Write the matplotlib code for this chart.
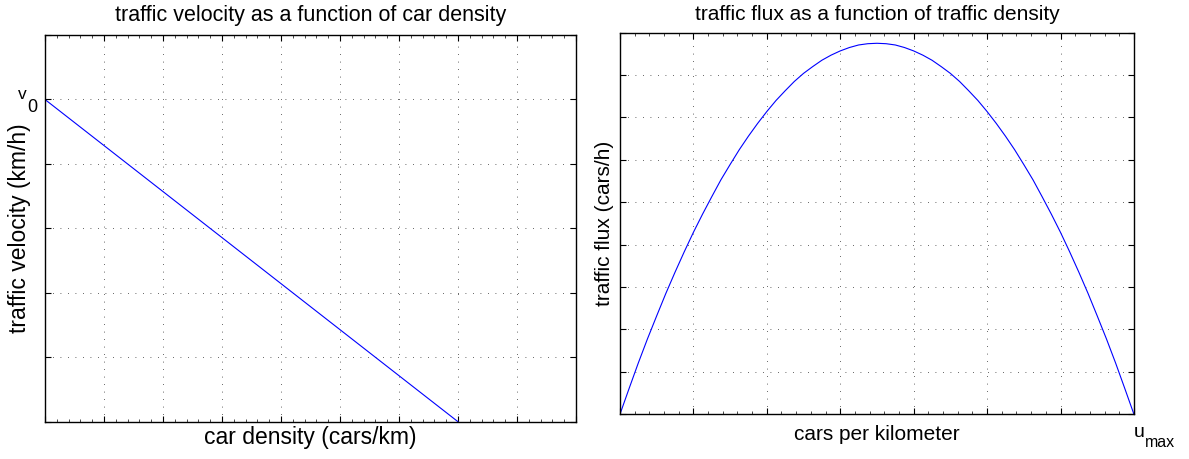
import numpy as np
import matplotlib
matplotlib.use('Agg')
import matplotlib.pyplot as plt
import matplotlib.transforms as mtransforms
from matplotlib.ticker import AutoMinorLocator

plt.rcParams['font.family'] = ['Liberation Sans', 'DejaVu Sans']

# velocity vs density (straight line from v0 down to u_max)
density_v = [0.0, 7.0]
velocity = [5.0, 0.0]

# flux vs density
density_q = [0.0, 0.125, 0.25, 0.375, 0.5, 0.625, 0.75, 0.875, 1.0, 1.125, 1.25, 1.375,
             1.5, 1.625, 1.75, 1.875, 2.0, 2.125, 2.25, 2.375, 2.5, 2.625, 2.75, 2.875,
             3.0, 3.125, 3.25, 3.375, 3.5, 3.625, 3.75, 3.875, 4.0, 4.125, 4.25, 4.375,
             4.5, 4.625, 4.75, 4.875, 5.0, 5.125, 5.25, 5.375, 5.5, 5.625, 5.75, 5.875,
             6.0, 6.125, 6.25, 6.375, 6.5, 6.625, 6.75, 6.875, 7.0]
flux = [0.0, 0.61, 1.21, 1.78, 2.32, 2.85, 3.35, 3.83, 4.29, 4.72, 5.13, 5.53,
        5.89, 6.24, 6.56, 6.86, 7.14, 7.40, 7.63, 7.85, 8.04, 8.20, 8.35, 8.47,
        8.57, 8.65, 8.71, 8.74, 8.75, 8.74, 8.71, 8.65, 8.57, 8.47, 8.35, 8.20,
        8.04, 7.85, 7.63, 7.40, 7.14, 6.86, 6.56, 6.24, 5.89, 5.53, 5.13, 4.72,
        4.29, 3.83, 3.35, 2.85, 2.32, 1.78, 1.21, 0.61, 0.0]

left_xticks = list(range(10))
left_yticks = list(range(7))
right_xticks = list(range(8))
right_yticks = list(range(10))

v0_level = 5
umax_pos = 7


def style_axes(ax):
    ax.grid(True, color='k', linestyle=(0, (1, 8)), linewidth=0.6, alpha=0.8)
    ax.tick_params(which='both', direction='in', top=True, right=True, colors='k',
                   labelbottom=False, labelleft=False)
    ax.tick_params(which='major', length=4, width=0.8)
    ax.tick_params(axis='x', which='minor', length=2, width=0.5)
    ax.tick_params(axis='y', which='minor', left=False, right=False)
    ax.xaxis.set_minor_locator(AutoMinorLocator(5))
    for s in ax.spines.values():
        s.set_linewidth(1.0)
        s.set_color('k')


fig = plt.figure(figsize=(11.89, 4.59), dpi=100)

# left panel: velocity
ax1 = fig.add_axes([0.0378, 0.0813, 0.4466, 0.8424])
ax1.plot(density_v, velocity, color='#0000ff', linewidth=0.8)
ax1.set_xlim(0, 9)
ax1.set_ylim(0, 6)
ax1.set_xticks(left_xticks)
ax1.set_yticks(left_yticks)
style_axes(ax1)
ax1.set_title('traffic velocity as a function of car density', fontsize=15.5, pad=10)
ax1.set_xlabel('car density (cars/km)', fontsize=16.5)
ax1.xaxis.set_label_coords(0.5, -0.012)
ax1.set_ylabel('traffic velocity (km/h)', fontsize=16.5)
ax1.yaxis.set_label_coords(-0.026, 0.5)

# v_0 label on the y axis
tr1 = mtransforms.blended_transform_factory(ax1.transAxes, ax1.transData)
ax1.text(-0.034, v0_level, 'v', transform=tr1, fontsize=12.5, ha='right', va='baseline')
ax1.text(-0.015, v0_level, '0', fontsize=13, ha='right', va='baseline',
         transform=tr1 + mtransforms.ScaledTranslation(0, -13 / 100, fig.dpi_scale_trans))

# right panel: flux
ax2 = fig.add_axes([0.5214, 0.0974, 0.4323, 0.8314])
ax2.plot(density_q, flux, color='#0000ff', linewidth=0.8)
ax2.set_xlim(0, 7)
ax2.set_ylim(0, 9)
ax2.set_xticks(right_xticks)
ax2.set_yticks(right_yticks)
style_axes(ax2)
ax2.set_title('traffic flux as a function of traffic density', fontsize=15, pad=9)
ax2.set_xlabel('cars per kilometer', fontsize=15)
ax2.xaxis.set_label_coords(0.5, -0.028)
ax2.set_ylabel('traffic flux (cars/h)', fontsize=15)
ax2.yaxis.set_label_coords(-0.012, 0.5)

# u_max label under the x axis
tr2 = mtransforms.blended_transform_factory(ax2.transData, ax2.transAxes)
ax2.text(umax_pos, -0.06, 'u', transform=tr2, fontsize=14, ha='left', va='baseline')
ax2.text(umax_pos, -0.06, 'max', fontsize=11.5, ha='left', va='baseline',
         transform=tr2 + mtransforms.ScaledTranslation(11 / 100, -10 / 100, fig.dpi_scale_trans))

fig.savefig('out.png', dpi=100)
